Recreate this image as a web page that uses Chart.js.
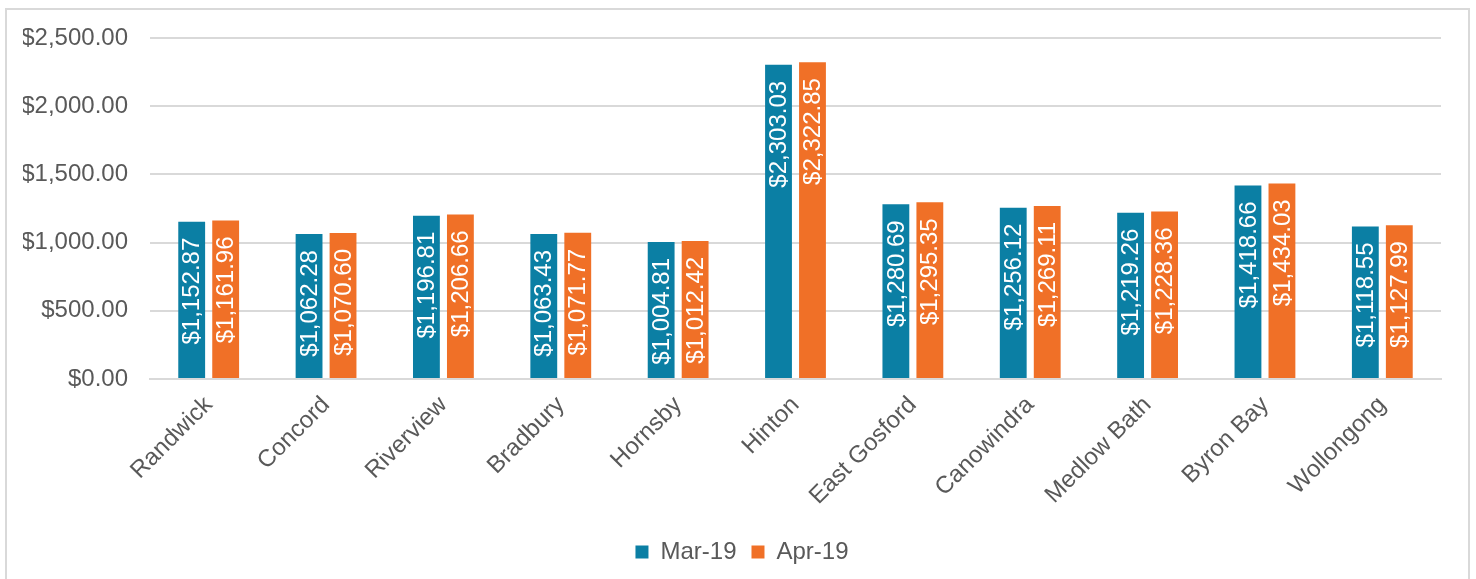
<!DOCTYPE html>
<html>
<head>
<meta charset="utf-8">
<script src="https://cdn.jsdelivr.net/npm/chart.js@4/dist/chart.umd.min.js"></script>
<style>
  html, body { margin: 0; padding: 0; background: #fff; overflow: hidden; }
  .frame {
    position: absolute; left: 5px; top: 8px; width: 1465px; height: 640px;
    border: 2px solid #d9d9d9; box-sizing: border-box;
  }
  .wrap { position: absolute; left: 0; top: 0; width: 1461px; height: 600px; }
</style>
</head>
<body>
<div class="frame"><div class="wrap"><canvas id="chart"></canvas></div></div>
<script>
var locations = ["Randwick", "Concord", "Riverview", "Bradbury", "Hornsby", "Hinton",
  "East Gosford", "Canowindra", "Medlow Bath", "Byron Bay", "Wollongong"];
var seriesNames = ["Mar-19", "Apr-19"];
var mar19 = [1152.87, 1062.28, 1196.81, 1063.43, 1004.81, 2303.03, 1280.69, 1256.12, 1219.26, 1418.66, 1118.55];
var apr19 = [1161.96, 1070.60, 1206.66, 1071.77, 1012.42, 2322.85, 1295.35, 1269.11, 1228.36, 1434.03, 1127.99];
var yTicks = [0, 500, 1000, 1500, 2000, 2500];

var FONT = "'Liberation Sans', Arial, sans-serif";
var TEAL = "#0b7fa4";
var ORANGE = "#f07027";
var TEXT = "#595959";

function money(v) {
  var parts = v.toFixed(2).split(".");
  parts[0] = parts[0].replace(/\B(?=(\d{3})+(?!\d))/g, ",");
  return "$" + parts[0] + "." + parts[1];
}

// white value labels, rotated, just inside the top of each bar
var barLabels = {
  id: "barLabels",
  afterLayout: function (chart) {
    // nudge legend a bit right, like the original
    chart.legend.left += 10;
    chart.legend.right += 10;
  },
  afterDatasetsDraw: function (chart) {
    var ctx = chart.ctx;
    ctx.save();
    ctx.font = "24px " + FONT;
    ctx.fillStyle = "#ffffff";
    ctx.textAlign = "right";
    ctx.textBaseline = "middle";
    chart.data.datasets.forEach(function (ds, i) {
      chart.getDatasetMeta(i).data.forEach(function (bar, j) {
        ctx.save();
        ctx.translate(bar.x, bar.y + 16);
        ctx.rotate(-Math.PI / 2);
        ctx.fillText(money(ds.data[j]), 0, 1);
        ctx.restore();
      });
    });
    ctx.restore();
  }
};

new Chart(document.getElementById("chart"), {
  type: "bar",
  data: {
    labels: locations,
    datasets: [
      { label: seriesNames[0], data: mar19, backgroundColor: TEAL,
        categoryPercentage: 0.579, barPercentage: 0.79 },
      { label: seriesNames[1], data: apr19, backgroundColor: ORANGE,
        categoryPercentage: 0.579, barPercentage: 0.79 }
    ]
  },
  options: {
    responsive: true,
    maintainAspectRatio: false,
    animation: false,
    layout: { padding: { left: 16, right: 27, top: 28, bottom: 36 } },
    plugins: {
      legend: {
        position: "bottom",
        labels: {
          color: TEXT, font: { family: FONT, size: 24 },
          boxWidth: 13, boxHeight: 13, padding: 15
        }
      },
      tooltip: { enabled: false }
    },
    scales: {
      x: {
        grid: { display: false },
        border: { color: "#d9d9d9", width: 2 },
        ticks: {
          color: TEXT, font: { family: FONT, size: 24 },
          maxRotation: 45, minRotation: 45, padding: 4
        },
        afterFit: function (scale) {
          scale.height = 146;
          scale.paddingLeft = 0;
          scale.paddingRight = 0;
        }
      },
      y: {
        min: yTicks[0],
        max: yTicks[yTicks.length - 1],
        afterBuildTicks: function (scale) {
          scale.ticks = yTicks.map(function (v) { return { value: v }; });
        },
        grid: { color: "#d9d9d9", lineWidth: 2, drawTicks: false },
        border: { display: false },
        ticks: {
          color: TEXT, font: { family: FONT, size: 24 }, padding: 22,
          callback: function (v) { return money(v); }
        },
        afterFit: function (scale) {
          scale.width = 127;
          scale.paddingTop = 0;
          scale.paddingBottom = 0;
        }
      }
    }
  },
  plugins: [barLabels]
});
</script>
</body>
</html>
